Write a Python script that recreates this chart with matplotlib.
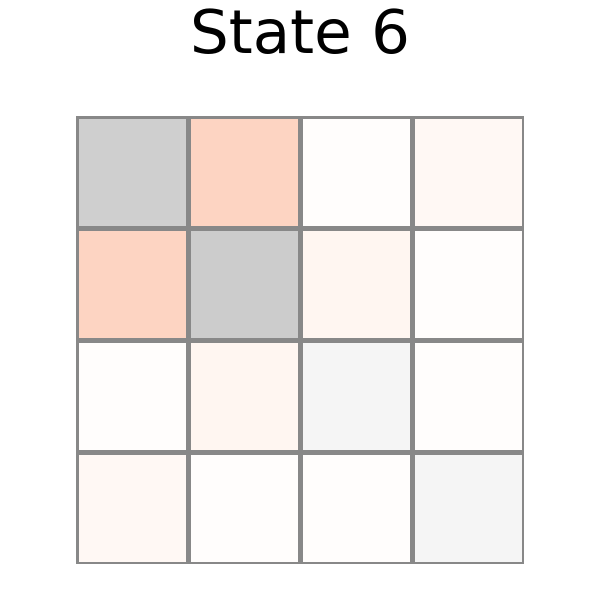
import matplotlib
matplotlib.use('Agg')
import matplotlib.pyplot as plt
import numpy as np
from matplotlib.colors import LinearSegmentedColormap

title = 'State 6'
# off-diagonal transition strengths (row, col)
trans = np.array([
    [0.00, 0.27, 0.03, 0.09],
    [0.27, 0.00, 0.12, 0.03],
    [0.03, 0.12, 0.00, 0.03],
    [0.09, 0.03, 0.03, 0.00],
])
# diagonal (self) values
diag = [0.19, 0.20, 0.04, 0.04]

reds = plt.get_cmap('Reds')
red_cmap = LinearSegmentedColormap.from_list(
    'wr', ['#ffffff'] + [reds(x) for x in np.linspace(0, 1, 8)])
gray_cmap = LinearSegmentedColormap.from_list('wg', ['#ffffff', '#000000'])

n = len(diag)
eye = np.eye(n, dtype=bool)
off = np.ma.masked_where(eye, trans)
on = np.ma.masked_where(~eye, np.diag(diag))

fig = plt.figure(figsize=(6, 6), dpi=100)
ax = fig.add_axes([76 / 600, 36 / 600, 448 / 600, 448 / 600])
ax.pcolormesh(off, cmap=red_cmap, vmin=0, vmax=1, edgecolors='#888888', linewidth=2.2)
ax.pcolormesh(on, cmap=gray_cmap, vmin=0, vmax=1, edgecolors='#888888', linewidth=2.2)
ax.set_xlim(0, n)
ax.set_ylim(n, 0)
ax.set_xticks([])
ax.set_yticks([])
for s in ax.spines.values():
    s.set_visible(False)
ax.set_title(title, fontsize=44, pad=45)

fig.savefig('out.png', dpi=100)
